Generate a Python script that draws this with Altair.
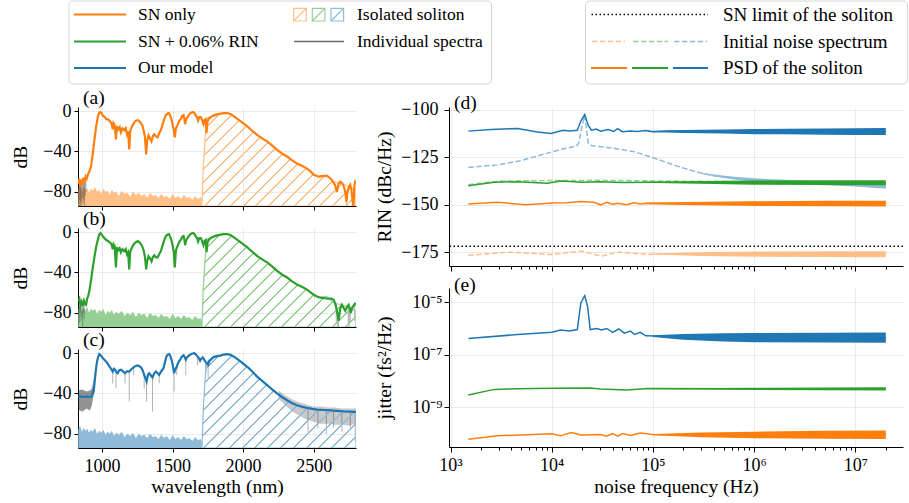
import altair as alt
import pandas as pd

FONT = "Liberation Serif"
ORANGE, GREEN, BLUE = "#ff7f0e", "#2ca02c", "#1f77b4"
L_ORANGE, L_GREEN, L_BLUE = "#ffbf86", "#95cf95", "#8fbbd9"
INDIV = "#262626"

# ---------------- layout / scales ----------------
LW, LH = 278, 99
RW, RH = 454, 159
NM_DOMAIN = [830, 2800]
DB_DOMAIN = [-94, 4]
F_DOMAIN = [10 ** 2.985, 10 ** 7.471]
RIN_DOMAIN = [-182.3, -98.6]
JIT_DOMAIN = [10 ** -10.515, 10 ** -4.458]
LEG_ORIGIN_X = 77   # figure x of the legend strip's origin

# ---------------- spectra (nm, dB) ----------------
SPEC_A = [(832,-72),(840,-67),(846,-75),(852,-68),(860,-71),(868,-66),(876,-70),(884,-65),(892,-67),(900,-63),(910,-60),(922,-55),(934,-43),(946,-29),(958,-16),(970,-6),(980,-1.5),(990,-1),(1000,-3),(1010,-5),(1020,-6),(1030,-8),(1040,-8),(1052,-9.5),(1062,-11),(1070,-13),(1076,-18),(1082,-12),(1090,-14),(1099,-28),(1106,-15),(1115,-18),(1125,-16),(1134,-21),(1145,-17),(1158,-19),(1168,-17),(1177,-23),(1185,-20),(1193,-38),(1200,-20),(1210,-16),(1225,-12),(1240,-9.5),(1255,-9),(1271,-11),(1285,-14),(1295,-19),(1305,-26),(1313,-43),(1320,-30),(1330,-24),(1340,-27),(1351,-30),(1360,-25),(1370,-23),(1382,-25),(1394,-26),(1405,-22),(1417,-19),(1430,-13),(1441,-8),(1452,-4),(1465,-2.5),(1475,-2),(1483,-4.5),(1492,-8),(1500,-13),(1508,-18),(1516,-26),(1524,-17),(1535,-14),(1547,-10),(1559,-7.5),(1568,-5),(1578,-4),(1584,-8),(1589,-13),(1597,-8),(1606,-6),(1615,-4),(1624,-2.5),(1635,-1.5),(1646,-1),(1655,-2),(1665,-4.5),(1673,-6),(1681,-9.5),(1690,-6),(1700,-6),(1710,-9),(1719,-13),(1727,-9),(1735,-8),(1741,-22),(1747,-11),(1755,-8),(1770,-6),(1790,-4.5),(1816,-3.3),(1840,-2.5),(1863,-2),(1887,-2),(1910,-3),(1933,-5),(1957,-7.5),(1981,-10),(2005,-12.5),(2028,-15),(2060,-19),(2099,-23.5),(2135,-27),(2170,-30),(2205,-34),(2241,-38.5),(2275,-42),(2312,-45),(2345,-48.5),(2382,-52),(2420,-54.5),(2453,-57),(2480,-60),(2500,-63),(2520,-64),(2535,-65),(2560,-64.5),(2594,-64),(2612,-66),(2630,-68.5),(2650,-73),(2665,-80),(2676,-72),(2688,-70),(2700,-71),(2712,-74),(2724,-80),(2732,-90),(2740,-80),(2750,-75),(2759,-73),(2768,-78),(2775,-88),(2782,-96),(2788,-75),(2794,-70),(2800,-71)]

SPEC_B = [(832,-68),(840,-66),(848,-72),(856,-69),(864,-73),(872,-68),(880,-71),(887,-72),(895,-66),(903,-63),(912,-57),(922,-48),(934,-36),(946,-25),(958,-15),(970,-8),(980,-2.5),(990,-1),(1000,-3),(1010,-5),(1020,-6.5),(1030,-8),(1040,-8.5),(1052,-10),(1062,-11),(1070,-13),(1076,-17),(1082,-12),(1090,-14),(1099,-35),(1106,-15),(1115,-18),(1125,-16),(1134,-20),(1145,-17),(1158,-19),(1168,-17),(1177,-22),(1185,-20),(1193,-37),(1200,-20),(1210,-16),(1225,-12),(1240,-10),(1255,-9),(1271,-11),(1285,-14),(1295,-18),(1305,-25),(1313,-37),(1320,-29),(1330,-24),(1340,-26),(1351,-29),(1360,-25),(1370,-23),(1382,-25),(1394,-25),(1405,-22),(1417,-19),(1430,-13),(1441,-8),(1452,-4),(1465,-2.5),(1475,-2),(1483,-4.5),(1492,-8),(1500,-13),(1508,-19),(1516,-35),(1524,-18),(1535,-14),(1547,-10),(1559,-7.5),(1568,-5),(1578,-4),(1584,-8),(1589,-13),(1597,-8),(1606,-6),(1615,-4),(1624,-2.5),(1635,-1.5),(1646,-1),(1655,-2),(1665,-4.5),(1673,-6),(1681,-9.5),(1690,-6),(1700,-6),(1710,-9),(1719,-13),(1727,-9),(1735,-8),(1741,-20),(1747,-11),(1755,-8),(1770,-6),(1790,-4.5),(1816,-3.3),(1840,-2.5),(1863,-2),(1887,-2),(1910,-3),(1933,-5),(1957,-7.5),(1981,-10),(2005,-12.5),(2028,-15),(2060,-19),(2099,-23.5),(2135,-27),(2170,-30),(2205,-34),(2241,-38.5),(2275,-42),(2312,-45),(2345,-48.5),(2382,-52),(2420,-54.5),(2453,-57),(2480,-60),(2500,-62),(2520,-63.5),(2548,-65),(2575,-65.5),(2600,-66),(2625,-66),(2642,-67),(2655,-72),(2665,-78),(2677,-88),(2688,-76),(2700,-72),(2712,-75),(2724,-78),(2736,-74),(2748,-72),(2756,-76),(2764,-80),(2772,-75),(2783,-73),(2792,-71),(2800,-72)]

SPEC_C = [(832,-43.5),(850,-43),(870,-43.5),(890,-43),(910,-43.5),(925,-43),(933,-41),(941,-38),(947,-30),(953,-21.6),(959,-14),(965,-8.3),(972,-4),(981,-1),(992,-2.5),(1005,-5),(1016,-6.5),(1028,-8.3),(1040,-10.5),(1052,-13.3),(1064,-15.5),(1076,-18.3),(1085,-15.5),(1094,-16.6),(1102,-19),(1111,-20),(1122,-17),(1134,-16.6),(1148,-18),(1163,-20),(1178,-18),(1193,-18.3),(1208,-16),(1224,-14.3),(1238,-12.8),(1252,-12.3),(1266,-13),(1281,-15),(1290,-18),(1299,-21.6),(1308,-25),(1316,-28.3),(1325,-22),(1334,-20),(1346,-22),(1358,-24.3),(1370,-20),(1382,-18.3),(1394,-20),(1405,-21.6),(1420,-18),(1436,-15),(1446,-9),(1457,-3.3),(1466,-1.5),(1476,-1),(1486,-3.5),(1495,-7.6),(1503,-13),(1511,-20),(1520,-16),(1530,-13.3),(1542,-9),(1554,-6.6),(1566,-3.5),(1578,-2.3),(1586,-4),(1594,-6.6),(1602,-4.5),(1610,-3.3),(1622,-1.8),(1634,-1),(1644,-0.5),(1653,0),(1665,-1.5),(1677,-3.3),(1686,-5),(1695,-7.6),(1704,-5.5),(1714,-4.3),(1724,-6.5),(1735,-9),(1745,-10.5),(1752,-11.6),(1760,-8),(1775,-6),(1790,-4),(1815,-3),(1840,-2.5),(1863,-1.5),(1887,-1),(1905,-1.5),(1920,-2.5),(1950,-5),(1981,-8.3),(2010,-11.5),(2040,-15),(2070,-19),(2099,-23.3),(2135,-27.5),(2170,-31.7),(2205,-36),(2241,-40),(2275,-43.5),(2312,-46.7),(2345,-49.5),(2382,-51.7),(2420,-53.3),(2453,-54.3),(2490,-55.3),(2524,-56),(2570,-56.4),(2618,-56.7),(2665,-57.2),(2712,-57.7),(2755,-58),(2800,-58.3)]

# isolated soliton (nm, dB)
SOL_AB = [(1706,-94),(1710,-90),(1717,-57),(1726,-37),(1733,-22),(1740,-10),(1750,-6.5),(1770,-5.5),(1790,-4.5),(1816,-3.3),(1840,-2.5),(1863,-2),(1887,-2),(1910,-3),(1933,-5),(1957,-7.5),(1981,-10),(2005,-12.5),(2028,-15),(2060,-19),(2099,-23.5),(2135,-27),(2170,-30),(2205,-34),(2241,-38.5),(2275,-42),(2312,-45),(2345,-48.5),(2382,-52),(2420,-54.5),(2453,-57),(2480,-60),(2500,-63),(2520,-64),(2535,-65),(2560,-64.5),(2594,-64),(2612,-66),(2630,-68.5),(2660,-71),(2700,-72),(2740,-74),(2770,-76),(2800,-78)]
SOL_C = [(1706,-94),(1710,-90),(1717,-57),(1726,-37),(1733,-22),(1740,-11),(1750,-8),(1760,-7),(1775,-5.5),(1790,-4),(1815,-3),(1840,-2.5),(1863,-1.5),(1887,-1),(1905,-1.5),(1920,-2.5),(1950,-5),(1981,-8.3),(2010,-11.5),(2040,-15),(2070,-19),(2099,-23.3),(2135,-27.5),(2170,-31.7),(2205,-36),(2241,-40),(2275,-43.5),(2312,-46.7),(2345,-49.5),(2382,-51.7),(2420,-53.3),(2453,-54.3),(2490,-55.3),(2524,-56),(2570,-56.4),(2618,-56.7),(2665,-57.2),(2712,-57.7),(2755,-58),(2800,-58.3)]

# noise floor of the isolated soliton (top of the noisy band)
NF_NM = [832,845,858,870,882,895,908,920,935,950,965,980,995,1010,1025,1040,1055,1070,1085,1100,1120,1140,1160,1180,1200,1220,1240,1260,1280,1300,1320,1340,1360,1380,1400,1420,1440,1460,1480,1500,1520,1540,1560,1580,1600,1620,1640,1660,1680,1700,1708]
NF_A = [-78,-74,-80,-75,-79,-76,-81,-77,-79,-75,-80,-78,-82,-77,-80,-79,-83,-78,-81,-80,-84,-79,-82,-81,-85,-80,-83,-81,-84,-82,-86,-81,-84,-83,-86,-82,-85,-84,-87,-82,-86,-84,-87,-83,-86,-85,-88,-84,-87,-85,-88]
NF_B = [-77,-73,-79,-75,-78,-74,-80,-76,-78,-76,-81,-77,-79,-76,-82,-78,-80,-77,-82,-79,-81,-78,-83,-80,-82,-79,-84,-80,-82,-81,-85,-80,-83,-82,-85,-81,-84,-83,-86,-81,-85,-83,-86,-82,-85,-84,-87,-83,-86,-85,-88]
NF_C = [-76,-72,-78,-74,-77,-75,-79,-76,-78,-74,-80,-77,-79,-76,-81,-78,-80,-77,-82,-79,-81,-78,-83,-80,-82,-79,-84,-80,-82,-81,-84,-80,-83,-82,-85,-81,-84,-82,-86,-81,-85,-83,-86,-82,-85,-84,-87,-83,-86,-85,-88]

# individual spectra: spikes (nm, top, bottom) and bands (nm, hi, lo)
GRAY_A = [(834,-72,-92),(838,-70,-96),(843,-68,-88),(847,-75,-96),(851,-69,-90),(856,-68,-96),(861,-71,-86),(866,-67,-92),(871,-69,-88),(876,-70,-96),(881,-66,-84),(886,-66,-80),(2732,-80,-96),(2782,-80,-96)]
GRAY_B = [(834,-68,-82),(839,-67,-90),(845,-70,-80),(851,-69,-88),(857,-70,-84),(863,-72,-96),(869,-68,-80),(875,-66,-86),(2660,-70,-90),(2668,-75,-96),(2676,-80,-96),(2745,-72,-90),(2752,-74,-96),(2760,-76,-90),(2790,-72,-88)]
GRAY_C = [(1076,-18,-30),(1099,-17,-35),(1163,-20,-30),(1193,-18,-48),(1224,-14,-22),(1299,-22,-35),(1316,-28,-48),(1358,-24,-58),(1405,-21,-30),(1511,-20,-38),(1530,-13,-22),(1594,-7,-22),(1677,-3,-12),(1735,-9,-20),(1752,-12,-25),(2460,-56,-78),(2530,-57,-75),(2590,-57,-80),(2640,-58,-74),(2700,-58,-78),(2760,-58,-76),(2795,-58,-88)]
GRAY_C_LEFT = [(832,-37,-56),(860,-36,-58),(890,-38,-55),(915,-37,-57),(928,-35,-52),(940,-28,-42),(950,-18,-28)]
GRAY_C_RIGHT = [(2250,-37,-45),(2300,-42,-52),(2350,-46,-58),(2400,-49,-62),(2450,-51,-66),(2500,-53,-68),(2550,-53,-70),(2600,-54,-70),(2650,-54,-71),(2700,-55,-71),(2750,-55,-72),(2800,-55,-70)]

# ---------------- RIN (Hz, dBc/Hz) ----------------
D_BLUE_PSD = [(1.5e3,-111.3),(2.5e3,-110.5),(4.6e3,-109.9),(7.2e3,-111.7),(9.8e3,-112.6),(1.3e4,-110.8),(1.5e4,-111.2),(1.79e4,-110.8),(1.94e4,-106),(2.12e4,-102.6),(2.29e4,-108.2),(2.47e4,-110.8),(2.75e4,-110.2),(3.05e4,-111.3),(3.6e4,-110.5),(4.1e4,-111.5),(4.47e4,-110),(5.0e4,-111.6),(6.0e4,-111.2),(7.0e4,-111.5),(8.5e4,-111.0),(1.0e5,-111.6),(1.5e5,-111.3),(2.5e5,-111.6),(5e5,-111.4),(1e6,-111.6),(3e6,-111.5),(1e7,-111.6),(2e7,-111.5)]
D_BLUE_PSD_BAND = [(9e4,-111.2,-111.8),(2e5,-110.7,-112.3),(5e5,-110.4,-112.6),(1e6,-110.2,-112.9),(2e6,-110.1,-113.0),(5e6,-109.9,-113.2),(1e7,-109.8,-113.3),(2e7,-109.7,-113.4)]
D_BLUE_INIT = [(1.5e3,-130.4),(2.9e3,-129.1),(4.9e3,-126.9),(7.8e3,-123.9),(1.23e4,-120.9),(1.75e4,-119.2),(1.85e4,-117.5),(1.97e4,-110),(2.12e4,-103),(2.2e4,-110),(2.3e4,-118),(2.5e4,-119.0),(4.2e4,-120.4),(6.6e4,-122.2),(1.04e5,-125.6),(1.6e5,-129.1),(2.6e5,-132.6),(4.1e5,-134.9),(6.5e5,-136.1),(1e6,-137),(1.9e6,-137.9),(4e6,-138.7),(8.5e6,-139.6),(2e7,-140.5)]
D_BLUE_INIT_BAND = [(3e5,-133.3,-133.9),(6e5,-135.2,-136.6),(1e6,-136.1,-137.9),(2e6,-136.9,-139.0),(5e6,-137.6,-139.8),(1e7,-138.3,-140.5),(2e7,-139.2,-141.6)]
D_GREEN_PSD = [(1.5e3,-140),(2.7e3,-138.2),(4.6e3,-137.9),(9e3,-138.7),(1.23e4,-137.5),(1.5e4,-137.8),(2e4,-138.2),(3e4,-138),(5e4,-138.3),(1e5,-138.2),(1e6,-138.4),(2e7,-138.5)]
D_GREEN_PSD_BAND = [(8e4,-137.9,-138.5),(3e5,-137.5,-139.0),(1e6,-137.3,-139.5),(5e6,-137.2,-139.7),(2e7,-137.1,-139.8)]
D_GREEN_INIT = [(1.5e3,-139.5),(3e3,-137.6),(1e4,-137.3),(3e4,-137.2),(1e5,-137.5),(1e6,-138),(2e7,-138.5)]
D_ORANGE_PSD = [(1.5e3,-149.7),(2.9e3,-148.7),(5.5e3,-150.1),(1.03e4,-149.2),(1.4e4,-149),(1.95e4,-148.3),(2.3e4,-148.6),(2.6e4,-148.8),(3.05e4,-150.1),(3.5e4,-148.8),(4e4,-149.8),(4.5e4,-149.3),(5.5e4,-150),(6.5e4,-149),(7.5e4,-149.6),(9e4,-149.3),(2e5,-149.4),(1e6,-149.4),(2e7,-149.4)]
D_ORANGE_PSD_BAND = [(8e4,-149.0,-149.6),(2e5,-148.6,-150.2),(1e6,-148.2,-150.7),(5e6,-148.0,-150.9),(2e7,-147.9,-151.0)]
D_ORANGE_INIT = [(1.5e3,-176.7),(3.8e3,-175),(1e4,-176.2),(1.94e4,-174.5),(2.3e4,-175.3),(3.05e4,-177.1),(4.5e4,-175),(9e4,-176.2),(2e5,-176),(1e6,-176),(2e7,-176)]
D_ORANGE_INIT_BAND = [(1e5,-175.7,-176.3),(3e5,-175.1,-177.0),(1e6,-174.7,-177.4),(5e6,-174.6,-177.6),(2e7,-174.5,-177.7)]
SN_LIMIT = -171.9

# ---------------- jitter (Hz, log10 fs^2/Hz) ----------------
E_BLUE = [(1.5e3,-6.38),(4.6e3,-6.23),(1e4,-6.14),(1.23e4,-6.06),(1.5e4,-6.1),(1.79e4,-6.04),(1.94e4,-5.03),(2.12e4,-4.75),(2.26e4,-5.15),(2.4e4,-6.04),(2.8e4,-6.0),(3.1e4,-6.06),(3.5e4,-6.0),(4e4,-6.15),(4.6e4,-6.02),(5.2e4,-6.18),(6e4,-6.1),(6.6e4,-6.23),(7.5e4,-6.15),(8.5e4,-6.28),(1.04e5,-6.29),(1.9e5,-6.32),(4e5,-6.35),(2e7,-6.35)]
E_BLUE_BAND = [(1e5,-6.26,-6.32),(2e5,-6.21,-6.43),(5e5,-6.18,-6.5),(1e6,-6.17,-6.52),(5e6,-6.16,-6.53),(2e7,-6.15,-6.54)]
E_GREEN = [(1.5e3,-8.53),(2.7e3,-8.32),(4.6e3,-8.30),(1e4,-8.28),(2.4e4,-8.27),(3e4,-8.31),(5.5e4,-8.34),(8.8e4,-8.29),(2e7,-8.3)]
E_GREEN_BAND = [(1e5,-8.29,-8.31),(1e6,-8.26,-8.34),(2e7,-8.24,-8.36)]
E_ORANGE = [(1.5e3,-10.22),(2.9e3,-10.09),(1e4,-10.01),(1.22e4,-10.09),(1.56e4,-9.96),(1.94e4,-10.06),(2.5e4,-10.05),(3e4,-10.04),(3.5e4,-10.1),(4e4,-10.0),(4.5e4,-10.1),(5e4,-10.0),(6e4,-10.08),(7.5e4,-9.98),(1e5,-10.04),(2e7,-10.05)]
E_ORANGE_BAND = [(1e5,-10.02,-10.07),(3e5,-9.96,-10.14),(1e6,-9.93,-10.18),(5e6,-9.9,-10.2),(2e7,-9.89,-10.21)]

# ---------------- legend content (figure pixel units) ----------------
LEG_BOXES = [(68, 490.5, 1, 84), (584.5, 906.5, 1, 84)]
LEG_SOLID = [(73, 125, 14.5, ORANGE), (73, 125, 41.5, GREEN), (73, 125, 68, BLUE),
             (590, 626, 68, ORANGE), (631, 667, 68, GREEN), (672, 707, 68, BLUE)]
LEG_INDIV = [(293, 343, 41.5, "#6a6a6a")]
LEG_DASHED = [(591, 624, 41.5, L_ORANGE), (632, 667, 41.5, L_GREEN), (673, 706, 41.5, L_BLUE)]
LEG_DOTTED = [(590.5, 707, 14.5, "black")]
LEG_SQUARES = [(292.7, 305.3, 21, 8.3, L_ORANGE), (311.3, 323.9, 21, 8.3, L_GREEN), (330, 342.6, 21, 8.3, L_BLUE)]
LEG_TEXT_L = [(137, 14.5, "SN only"), (137, 41.5, "SN + 0.06% RIN"), (137, 68, "Our model"),
              (356, 14.5, "Isolated soliton"), (356, 41.5, "Individual spectra")]
LEG_TEXT_R = [(722, 14.5, "SN limit of the soliton"), (722, 41.5, "Initial noise spectrum"),
              (722, 68, "PSD of the soliton")]


# ======================================================================
def df(rows, cols):
    return pd.DataFrame(rows, columns=cols)


def hatch_fill(pairs, color, spacing=12.8, lw=2.0):
    nms = [p[0] for p in pairs]
    dbs = [p[1] for p in pairs]
    W = (max(nms) - min(nms)) * LW / (NM_DOMAIN[1] - NM_DOMAIN[0])
    H = (max(dbs) - DB_DOMAIN[0]) * LH / (DB_DOMAIN[1] - DB_DOMAIN[0])
    L = W + H
    k = L / (W * (1 + (H / W) ** 2))
    stops = [alt.GradientStop(offset=0, color="transparent")]
    c = spacing / 2
    while c + lw / 2 < L:
        a, b = (c - lw / 2) / L, (c + lw / 2) / L
        stops += [alt.GradientStop(offset=a, color="transparent"),
                  alt.GradientStop(offset=a, color=color),
                  alt.GradientStop(offset=b, color=color),
                  alt.GradientStop(offset=b, color="transparent")]
        c += spacing
    stops.append(alt.GradientStop(offset=1, color="transparent"))
    return alt.LinearGradient(gradient="linear", stops=stops, x1=0, y1=0, x2=k, y2=k * H / W)


def panel_label(txt, ypos):
    return alt.Chart(df([(txt,)], ["t"])).mark_text(
        align="left", baseline="alphabetic", fontSize=19.5, font=FONT, color="black"
    ).encode(x=alt.value(5), y=alt.value(ypos), text="t:N")


def enc_nm(show):
    return alt.X("nm:Q", scale=alt.Scale(domain=NM_DOMAIN, nice=False, zero=False),
                 axis=alt.Axis(values=[1000, 1500, 2000, 2500], labels=show, format="d",
                               title="wavelength (nm)" if show else None,
                               grid=True, tickSize=4, labelPadding=19, labelBaseline="alphabetic",
                               titleY=44, titleBaseline="alphabetic"))


def enc_db():
    return alt.Y("db:Q", scale=alt.Scale(domain=DB_DOMAIN, nice=False, zero=False),
                 axis=alt.Axis(values=[-80, -40, 0], title="dB", titleX=-52, titleBaseline="alphabetic",
                               grid=True, tickSize=4, labelPadding=3))


def spectrum_panel(label, spec, sol, nf, dips, band_l, band_r, color, light, show):
    X, Y = enc_nm(show), enc_db()
    base = -94
    layers = [
        alt.Chart(df(list(zip(NF_NM, nf)), ["nm", "db"])).mark_area(color=light, opacity=1, clip=True)
        .encode(x=X, y=Y, y2=alt.datum(base)),
        alt.Chart(df(dips, ["nm", "db", "lo"])).mark_rule(color=INDIV, opacity=0.35, strokeWidth=1, clip=True)
        .encode(x=X, y=Y, y2="lo:Q"),
    ]
    if band_l is not None:
        layers.append(alt.Chart(df(band_l, ["nm", "db", "lo"]))
                      .mark_area(color=INDIV, opacity=0.5, clip=True)
                      .encode(x=X, y=Y, y2="lo:Q"))
    if band_r is not None:
        layers.append(alt.Chart(df(band_r, ["nm", "db", "lo"]))
                      .mark_area(color=INDIV, opacity=0.25, clip=True)
                      .encode(x=X, y=Y, y2="lo:Q"))
    layers += [
        alt.Chart(df(sol, ["nm", "db"])).mark_area(fill=hatch_fill(sol, light), stroke=light,
                                                   strokeWidth=1.2, opacity=1, clip=True)
        .encode(x=X, y=Y, y2=alt.datum(base)),
        alt.Chart(df(spec, ["nm", "db"])).mark_line(color=color, strokeWidth=2.2, clip=True)
        .encode(x=X, y=Y),
        panel_label(label, -3.5),
    ]
    return alt.layer(*layers).properties(width=LW, height=LH)


# ---------------- legend strip ----------------
def legend_chart():
    LX = alt.X("x:Q", scale=alt.Scale(domain=[LEG_ORIGIN_X, LEG_ORIGIN_X + 828], nice=False, zero=False), axis=None)
    LY = alt.Y("y:Q", scale=alt.Scale(domain=[0, 84], nice=False, zero=False, reverse=True), axis=None)
    boxes = alt.Chart(df(LEG_BOXES, ["x", "x2", "y", "y2"])).mark_rect(
        fill="white", stroke="#d5d5d5", strokeWidth=1, cornerRadius=4).encode(
        x=LX, x2="x2:Q", y=LY, y2="y2:Q")
    solid = alt.Chart(df(LEG_SOLID, ["x", "x2", "y", "c"])).mark_rule(strokeWidth=2).encode(
        x=LX, x2="x2:Q", y=LY, color=alt.Color("c:N", scale=None))
    indiv = alt.Chart(df(LEG_INDIV, ["x", "x2", "y", "c"])).mark_rule(strokeWidth=1.5).encode(
        x=LX, x2="x2:Q", y=LY, color=alt.Color("c:N", scale=None))
    dashed = alt.Chart(df(LEG_DASHED, ["x", "x2", "y", "c"])).mark_rule(strokeWidth=1.5, strokeDash=[5.5, 2.4]).encode(
        x=LX, x2="x2:Q", y=LY, color=alt.Color("c:N", scale=None))
    dotted = alt.Chart(df(LEG_DOTTED, ["x", "x2", "y", "c"])).mark_rule(strokeWidth=1.5, strokeDash=[1.5, 2.5]).encode(
        x=LX, x2="x2:Q", y=LY, color=alt.Color("c:N", scale=None))
    squares = alt.Chart(df(LEG_SQUARES, ["x", "x2", "y", "y2", "c"])).mark_rect(fillOpacity=0, strokeWidth=1.2).encode(
        x=LX, x2="x2:Q", y=LY, y2="y2:Q", stroke=alt.Stroke("c:N", scale=None))
    diags = alt.Chart(df(LEG_SQUARES, ["x", "x2", "y", "y2", "c"])).mark_rule(strokeWidth=1.2).encode(
        x=LX, x2="x2:Q", y=LY, y2="y2:Q", color=alt.Color("c:N", scale=None))
    texts_l = alt.Chart(df(LEG_TEXT_L, ["x", "y", "label"])).mark_text(
        align="left", baseline="middle", fontSize=17.5, font=FONT, color="black").encode(
        x=LX, y=LY, text="label:N")
    texts_r = alt.Chart(df(LEG_TEXT_R, ["x", "y", "label"])).mark_text(
        align="left", baseline="middle", fontSize=19, font=FONT, color="black").encode(
        x=LX, y=LY, text="label:N")
    return alt.layer(boxes, solid, indiv, dashed, dotted, squares, diags, texts_l, texts_r).properties(
        width=828, height=84)


pa = spectrum_panel("(a)", SPEC_A, SOL_AB, NF_A, GRAY_A, None, None, ORANGE, L_ORANGE, False)
pb = spectrum_panel("(b)", SPEC_B, SOL_AB, NF_B, GRAY_B, None, None, GREEN, L_GREEN, False)
pc = spectrum_panel("(c)", SPEC_C, SOL_C, NF_C, GRAY_C, GRAY_C_LEFT, GRAY_C_RIGHT, BLUE, L_BLUE, True)

# ---------------- right panels ----------------
MAJOR = "abs(log(datum.value) / LN10 - round(log(datum.value) / LN10)) < 0.001"
SUP = "['⁰','¹','²','³','⁴','⁵','⁶','⁷','⁸','⁹']"
F_TICKS = [m * 10 ** d for d in range(3, 8) for m in range(1, 10) if m * 10 ** d <= F_DOMAIN[1]]


def enc_f(show):
    return alt.X("f:Q", scale=alt.Scale(type="log", domain=F_DOMAIN, nice=False),
                 axis=alt.Axis(values=F_TICKS, labels=show,
                               labelExpr=f"{MAJOR} ? '10' + {SUP}[round(log(datum.value) / LN10)] : ''",
                               tickSize={"condition": {"test": MAJOR, "value": 5}, "value": 3},
                               gridOpacity={"condition": {"test": MAJOR, "value": 1}, "value": 0},
                               grid=True, title="noise frequency (Hz)" if show else None,
                               labelPadding=18, labelBaseline="alphabetic",
                               titleY=45, titleBaseline="alphabetic"))


def enc_rin():
    return alt.Y("v:Q", scale=alt.Scale(domain=RIN_DOMAIN, nice=False, zero=False),
                 axis=alt.Axis(values=[-175, -150, -125, -100], title="RIN (dBc/Hz)", titleX=-59,
                               titleBaseline="alphabetic", grid=True, tickSize=5, labelPadding=6))


def enc_jit():
    return alt.Y("v:Q", scale=alt.Scale(type="log", domain=JIT_DOMAIN, nice=False),
                 axis=alt.Axis(values=[1e-9, 1e-7, 1e-5], title="jitter (fs²/Hz)", titleX=-59,
                               labelExpr=f"'10⁻' + {SUP}[-round(log(datum.value) / LN10)]",
                               titleBaseline="alphabetic", grid=True, tickSize=5, labelPadding=2))


def series(line, band, color, X, Y, dashed=False, logv=False):
    conv = (lambda v: 10 ** v) if logv else (lambda v: v)
    ldf = df([(f, conv(v)) for f, v in line], ["f", "v"])
    bdf = df([(f, conv(h), conv(l)) for f, h, l in band], ["f", "v", "lo"])
    out = []
    if band:
        out.append(alt.Chart(bdf).mark_area(color=color, opacity=1, clip=True).encode(x=X, y=Y, y2="lo:Q"))
    if dashed:
        out.append(alt.Chart(ldf).mark_line(color=color, strokeWidth=1.5, strokeDash=[5.5, 2.4], clip=True)
                   .encode(x=X, y=Y))
    else:
        out.append(alt.Chart(ldf).mark_line(color=color, strokeWidth=1.5, clip=True).encode(x=X, y=Y))
    return out


Xd, Yd = enc_f(False), enc_rin()
d_layers = []
d_layers += series(D_ORANGE_INIT, D_ORANGE_INIT_BAND, L_ORANGE, Xd, Yd, dashed=True)
d_layers += series(D_GREEN_INIT, [], L_GREEN, Xd, Yd, dashed=True)
d_layers += series(D_BLUE_INIT, D_BLUE_INIT_BAND, L_BLUE, Xd, Yd, dashed=True)
d_layers += series(D_ORANGE_PSD, D_ORANGE_PSD_BAND, ORANGE, Xd, Yd)
d_layers += series(D_GREEN_PSD, D_GREEN_PSD_BAND, GREEN, Xd, Yd)
d_layers += series(D_BLUE_PSD, D_BLUE_PSD_BAND, BLUE, Xd, Yd)
d_layers.append(alt.Chart(df([(SN_LIMIT,)], ["v"])).mark_rule(
    color="black", strokeWidth=1.5, strokeDash=[1.5, 2.5]).encode(y=Yd))
d_layers.append(panel_label("(d)", 2))
pd_ = alt.layer(*d_layers).properties(width=RW, height=RH)

Xe, Ye = enc_f(True), enc_jit()
e_layers = []
e_layers += series(E_ORANGE, E_ORANGE_BAND, ORANGE, Xe, Ye, logv=True)
e_layers += series(E_GREEN, E_GREEN_BAND, GREEN, Xe, Ye, logv=True)
e_layers += series(E_BLUE, E_BLUE_BAND, BLUE, Xe, Ye, logv=True)
e_layers.append(panel_label("(e)", 3))
pe = alt.layer(*e_layers).properties(width=RW, height=RH)

left = alt.vconcat(pa, pb, pc, spacing=22, bounds="flush")
right = alt.vconcat(pd_, pe, spacing=22, bounds="flush")
body = alt.hconcat(left, right, spacing=18)
chart = alt.vconcat(legend_chart(), body, spacing=2).properties(
    padding={"left": 10, "top": 0, "right": 1, "bottom": 4},
).configure(font=FONT).configure_view(stroke=None).configure_axis(
    labelFont=FONT, titleFont=FONT, labelFontSize=18, titleFontSize=19.5, titleFontWeight="normal",
    labelColor="black", titleColor="black", domainColor="black", tickColor="black",
    gridColor="#ebebeb", domainWidth=1, tickWidth=1, gridWidth=1, labelFlush=False, labelOverlap=False,
)

chart.save("out.html", embed_options={"renderer": "svg", "actions": False})
